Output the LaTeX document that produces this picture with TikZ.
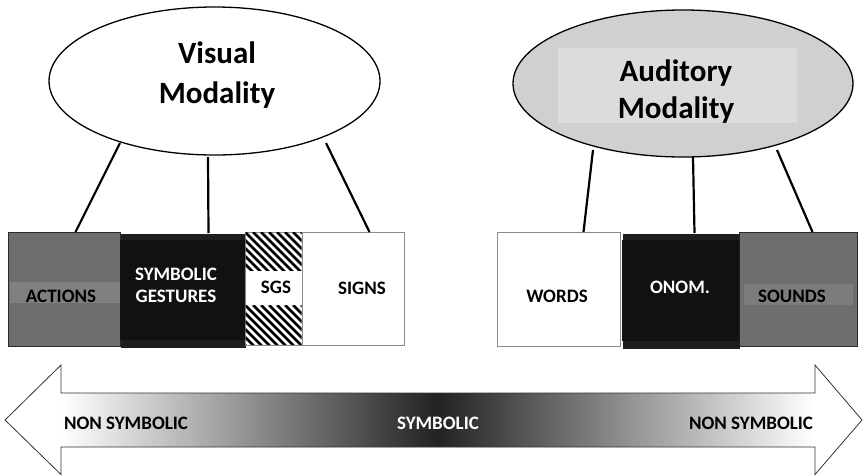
\documentclass[tikz,border=0pt]{standalone}
\usepackage{fontspec}
\setmainfont{Carlito}
\usetikzlibrary{shapes.geometric}
\definecolor{boxgray}{HTML}{6E6E6E}
\definecolor{bandgray}{HTML}{808080}
\definecolor{blk}{HTML}{111111}
\definecolor{blkband}{HTML}{1E1E1E}
\definecolor{ellgray}{HTML}{D0D0D0}
\definecolor{innergray}{HTML}{DCDCDC}
\definecolor{bordk}{HTML}{2A2A2A}
\definecolor{midgray}{HTML}{8A8A8A}
\definecolor{arrowline}{HTML}{333333}
\definecolor{shadk}{HTML}{222222}
\begin{document}
\begin{tikzpicture}[x=1pt,y=-1pt,
  ell/.style={ellipse, draw=black, line width=1.3pt, inner sep=0pt},
  bigtxt/.style={font=\bfseries\fontsize{31}{40}\selectfont, align=center, inner sep=0pt},
  smalltxt/.style={font=\bfseries\fontsize{19}{22}\selectfont, inner sep=0pt, anchor=base},
  box/.style={rectangle, inner sep=0pt, anchor=north west, line width=1pt},
  conn/.style={line width=2.2pt, black}]
\useasboundingbox (0,0) rectangle (864,475);
\fill[white] (0,0) rectangle (864,475);

% modality ellipses
\node[ell, fill=white, minimum width=331pt, minimum height=148pt] (vis) at (214.5,81) {};
\node[ell, fill=ellgray, minimum width=340pt, minimum height=147pt] (aud) at (683,83.5) {};
\fill[innergray] (558,48) rectangle (797,123);
\node[bigtxt] (vislab) at (217,75.5) {Visual\\Modality};
\node[bigtxt, font=\bfseries\fontsize{31}{37}\selectfont] (audlab) at (676,92) {Auditory\\Modality};

% visual boxes
\node[box, fill=boxgray, draw=bordk, minimum width=112pt, minimum height=114pt] (act) at (8,232) {};
\fill[bandgray] (10,282) rectangle (120,303);
\node[smalltxt] (actlab) at (61,302) {ACTIONS};

\node[box, fill=blkband, minimum width=125pt, minimum height=114pt] (symg) at (120,233) {};
\fill[blk] (120,240) rectangle (245,340);
\node[smalltxt, anchor=center, align=center, text=white] (symglab) at (176,285) {SYMBOLIC\\GESTURES};

\node[box, fill=white, draw=midgray, minimum width=57pt, minimum height=113pt] (sgs) at (245,232) {};
\begin{scope}
  \clip (245.5,232.5) rectangle (301.5,270);
  \foreach \i in {-48,-40,...,56} \draw[line width=2.6pt] (245+\i,232) -- ++(45,45);
\end{scope}
\begin{scope}
  \clip (245.5,305) rectangle (301.5,344);
  \foreach \i in {-48,-40,...,56} \draw[line width=2.6pt] (245+\i,305) -- ++(45,45);
\end{scope}
\node[smalltxt] (sgslab) at (276,293) {SGS};

\node[box, fill=white, draw=midgray, minimum width=102pt, minimum height=113pt] (signs) at (302,232) {};
\node[smalltxt] (signslab) at (362,294) {SIGNS};

% auditory boxes
\node[box, fill=white, draw=midgray, minimum width=123pt, minimum height=114pt] (words) at (497,232) {};
\node[smalltxt] (wordslab) at (557,302) {WORDS};

\node[box, fill=boxgray, draw=bordk, minimum width=118pt, minimum height=114pt] (sounds) at (739,232) {};
\fill[bandgray!97!black] (744,284) rectangle (853,305);
\node[smalltxt] (soundslab) at (792,302) {SOUNDS};

\node[box, fill=blkband, minimum width=117pt, minimum height=115pt] (onom) at (622,233) {};
\fill[blk] (622,240) rectangle (739,341);
\node[smalltxt, text=white] (onomlab) at (680,293) {ONOM.};

% connectors
\coordinate (v1) at (120,143);
\coordinate (v2) at (208,157);
\coordinate (v3) at (326,143);
\coordinate (a1) at (593,150);
\coordinate (a2) at (693,157);
\coordinate (a3) at (777,150);
\draw[conn] (v1) -- ([xshift=11pt]act.north);
\draw[conn] (v2) -- ([xshift=25.5pt]symg.north);
\draw[conn] (v3) -- ([xshift=16pt]signs.north);
\draw[conn] (a1) -- ([xshift=24.5pt]words.north);
\draw[conn] (a2) -- ([xshift=13.5pt]onom.north);
\draw[conn] (a3) -- ([xshift=14pt]sounds.north);

% symbolic scale arrow
\begin{scope}
  \clip (5,420) -- (61,365) -- (61,393) -- (815,393) -- (815,365) -- (862,420) -- (815,474.5) -- (815,447) -- (61,447) -- (61,474.5) -- cycle;
  \fill[white] (0,360) rectangle (864,475);
  \foreach \k in {0,...,94} {
    \pgfmathsetmacro\p{(\k+0.5)*100/95}
    \fill[shadk!\p!white] (61+\k*3.9684,390) rectangle ++(4.6,60);
    \fill[shadk!\p!white] (815-\k*3.9684,390) rectangle ++(-4.6,60);
  }
\end{scope}
\draw[draw=arrowline, line width=0.8pt, line join=miter] (5,420) -- (61,365) -- (61,393) -- (815,393) -- (815,365) -- (862,420) -- (815,474.5) -- (815,447) -- (61,447) -- (61,474.5) -- cycle;
\node[smalltxt] (ns1) at (126,429) {NON SYMBOLIC};
\node[smalltxt, text=white] (sym) at (438,429) {SYMBOLIC};
\node[smalltxt] (ns2) at (751,429) {NON SYMBOLIC};
\end{tikzpicture}
\end{document}
